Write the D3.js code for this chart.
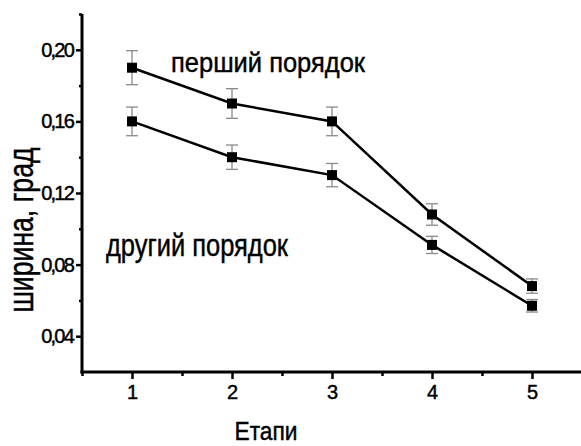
<!DOCTYPE html>
<html>
<head>
<meta charset="utf-8">
<script src="https://cdn.jsdelivr.net/npm/d3@7"></script>
<style>
  html, body { margin: 0; padding: 0; background: #fff; }
  svg { display: block; font-family: "Liberation Sans", Arial, sans-serif; }
  .heavy { stroke: #000; stroke-width: 0.45px; }
</style>
</head>
<body>
<svg id="chart" width="581" height="446"></svg>
<script>
// Stage numbers on the x axis
const stages = [1, 2, 3, 4, 5];
// Line width (degrees), first-order reflection, with error half-widths
const firstOrder = [0.19, 0.17, 0.16, 0.108, 0.068];
const firstErr = [0.0095, 0.0083, 0.008, 0.006, 0.004];
// Line width (degrees), second-order reflection, with error half-widths
const secondOrder = [0.16, 0.14, 0.13, 0.091, 0.057];
const secondErr = [0.008, 0.0068, 0.0065, 0.0048, 0.0035];
// Axis tick values and labels
const yTicks = [0.04, 0.08, 0.12, 0.16, 0.20];
const yMinorTicks = [0.06, 0.10, 0.14, 0.18, 0.22];
const xMinorTicks = [0.5, 1.5, 2.5, 3.5, 4.5];
const yLabel = "ширина, град";
const xLabel = "Етапи";
const firstName = "перший порядок";
const secondName = "другий порядок";

const svg = d3.select("#chart");

const x = d3.scaleLinear().domain([0.5, 5.5]).range([82, 582]);
const y = d3.scaleLinear().domain([0.02, 0.22]).range([372, 14]);

const fmt = v => d3.format(".2f")(v).replace(".", ",");

// Y axis
const gy = svg.append("g").attr("transform", `translate(${x(0.5)},0)`);
gy.call(d3.axisLeft(y).tickValues(yTicks).tickSize(6).tickPadding(3).tickFormat(fmt));
gy.append("g").call(d3.axisLeft(y).tickValues(yMinorTicks).tickSize(3).tickFormat(""))
  .select(".domain").remove();
gy.selectAll(".domain").attr("stroke", "#000").attr("stroke-width", 3);
gy.selectAll(".tick line").attr("stroke", "#000").attr("stroke-width", 2.5);
gy.selectAll(".tick text").attr("font-size", 20).attr("fill", "#000")
  .attr("font-family", "Liberation Sans, Arial, sans-serif")
  .attr("letter-spacing", -1.8).attr("class", "heavy");

// X axis
const gx = svg.append("g").attr("transform", `translate(0,${y(0.02)})`);
gx.call(d3.axisBottom(x).tickValues(stages).tickSize(7).tickPadding(6).tickFormat(d3.format("d")));
gx.append("g").call(d3.axisBottom(x).tickValues(xMinorTicks).tickSize(4).tickFormat(""))
  .select(".domain").remove();
gx.selectAll(".domain").attr("stroke", "#000").attr("stroke-width", 3);
gx.selectAll(".tick line").attr("stroke", "#000").attr("stroke-width", 2.5);
gx.selectAll(".tick text").attr("font-size", 20).attr("fill", "#000")
  .attr("font-family", "Liberation Sans, Arial, sans-serif").attr("class", "heavy");
// Clean up the domain ends so the axes meet squarely
gy.select(".domain").attr("d", `M0,${y(0.22)}V${y(0.02) + 1.5}`);
gx.select(".domain").attr("d", `M${x(0.5) - 1.5},0H${x(5.5)}`);

// Draw one series: error bars, connecting line, square markers
function drawSeries(values, errs) {
  const pts = stages.map((s, i) => ({ s, v: values[i], e: errs[i] }));
  const g = svg.append("g");
  const eb = g.selectAll(".eb").data(pts).enter().append("g").attr("class", "eb")
    .attr("stroke", "#8a8a8a").attr("stroke-width", 1.3);
  eb.append("line")
    .attr("x1", d => x(d.s)).attr("x2", d => x(d.s))
    .attr("y1", d => y(d.v + d.e)).attr("y2", d => y(d.v - d.e));
  [1, -1].forEach(sign => {
    eb.append("line")
      .attr("x1", d => x(d.s) - 6).attr("x2", d => x(d.s) + 6)
      .attr("y1", d => y(d.v + sign * d.e)).attr("y2", d => y(d.v + sign * d.e));
  });
  g.append("path").datum(pts)
    .attr("fill", "none").attr("stroke", "#000").attr("stroke-width", 2.5)
    .attr("d", d3.line().x(d => x(d.s)).y(d => y(d.v)));
  g.selectAll("rect").data(pts).enter().append("rect")
    .attr("x", d => x(d.s) - 5).attr("y", d => y(d.v) - 5)
    .attr("width", 10).attr("height", 10).attr("fill", "#000");
}
drawSeries(firstOrder, firstErr);
drawSeries(secondOrder, secondErr);

// Series names
svg.append("text").attr("class", "heavy").attr("x", 171).attr("y", 72)
  .attr("font-size", 28).attr("textLength", 194).attr("lengthAdjust", "spacingAndGlyphs")
  .text(firstName);
svg.append("text").attr("class", "heavy").attr("x", 106).attr("y", 256)
  .attr("font-size", 32).attr("textLength", 182).attr("lengthAdjust", "spacingAndGlyphs")
  .text(secondName);

// Axis titles
svg.append("text").attr("class", "heavy")
  .attr("transform", "translate(33,230) rotate(-90)")
  .attr("text-anchor", "middle").attr("font-size", 35)
  .attr("textLength", 165).attr("lengthAdjust", "spacingAndGlyphs")
  .text(yLabel);
svg.append("text").attr("class", "heavy").attr("x", 266).attr("y", 440)
  .attr("text-anchor", "middle").attr("font-size", 26)
  .attr("textLength", 63).attr("lengthAdjust", "spacingAndGlyphs")
  .text(xLabel);
</script>
</body>
</html>
